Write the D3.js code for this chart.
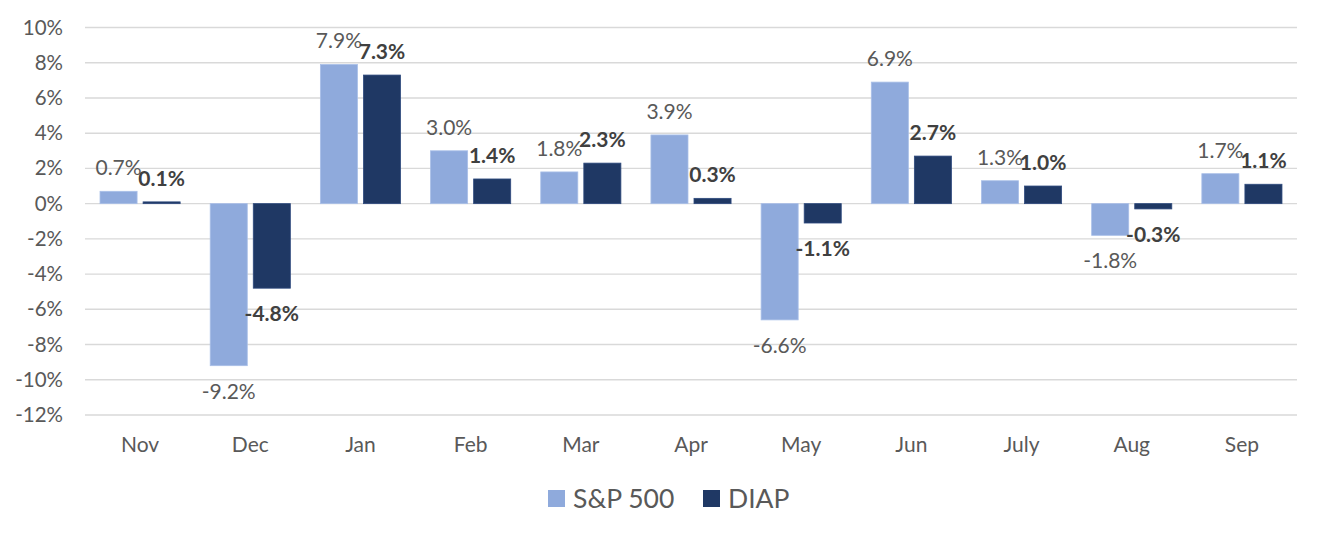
<!DOCTYPE html>
<html>
<head>
<meta charset="utf-8">
<script src="https://cdn.jsdelivr.net/npm/d3@7"></script>
<style>
  html, body { margin: 0; padding: 0; background: #fff; }
  svg { display: block; font-family: Lato, "Noto Sans", sans-serif; }
</style>
</head>
<body>
<svg id="chart" width="1325" height="540"></svg>
<script>
const categories = ["Nov", "Dec", "Jan", "Feb", "Mar", "Apr", "May", "Jun", "July", "Aug", "Sep"];
const seriesNames = ["S&P 500", "DIAP"];
const sp500 = [0.7, -9.2, 7.9, 3.0, 1.8, 3.9, -6.6, 6.9, 1.3, -1.8, 1.7];
const diap = [0.1, -4.8, 7.3, 1.4, 2.3, 0.3, -1.1, 2.7, 1.0, -0.3, 1.1];
const yTicks = [-12, -10, -8, -6, -4, -2, 0, 2, 4, 6, 8, 10];
const colors = ["#8faadc", "#1f3864"];

(function () {
const svg = d3.select("#chart");
const mLeft = 85, mRight = 1297, mTop = 27.5, mBottom = 415;

const x = d3.scaleBand().domain(categories).range([mLeft, mRight]).paddingInner(0).paddingOuter(0);
const x1 = d3.scaleBand().domain(seriesNames).range([0, x.bandwidth()]).paddingInner(6 / 43).paddingOuter(15 / 43);
const y = d3.scaleLinear().domain([-12, 10]).range([mBottom, mTop]);

// Gridlines
svg.append("g")
  .selectAll("line")
  .data(yTicks)
  .join("line")
  .attr("x1", mLeft).attr("x2", mRight)
  .attr("y1", d => y(d)).attr("y2", d => y(d))
  .attr("stroke", "#d9d9d9").attr("stroke-width", 1.4);

// Y axis labels
const yAxis = d3.axisLeft(y).tickValues(yTicks).tickFormat(d => d + "%").tickSize(0).tickPadding(0);
const gy = svg.append("g").attr("transform", "translate(63,0)").call(yAxis);
gy.select(".domain").remove();
gy.selectAll("text")
  .attr("font-family", "Lato, 'Noto Sans', sans-serif")
  .attr("font-size", 20.5).attr("fill", "#595959");

// X axis labels
const xAxis = d3.axisBottom(x).tickSize(0).tickPadding(0);
const gx = svg.append("g").attr("transform", "translate(0,437)").call(xAxis);
gx.select(".domain").remove();
gx.selectAll("text")
  .attr("font-family", "Lato, 'Noto Sans', sans-serif")
  .attr("font-size", 21).attr("fill", "#595959");

const series = [sp500, diap];
series.forEach((vals, si) => {
  const name = seriesNames[si];
  const g = svg.append("g");
  g.selectAll("rect")
    .data(vals)
    .join("rect")
    .attr("x", (d, i) => x(categories[i]) + x1(name))
    .attr("width", x1.bandwidth())
    .attr("y", d => y(Math.max(0, d)))
    .attr("height", d => Math.abs(y(d) - y(0)))
    .attr("fill", colors[si])
    .attr("stroke", si === 0 ? "#a9bfe8" : "#2e4a7e")
    .attr("stroke-width", 0.8);
  g.selectAll("text")
    .data(vals)
    .join("text")
    .attr("x", (d, i) => x(categories[i]) + x1(name) + x1.bandwidth() / 2)
    .attr("y", d => d >= 0 ? y(d) - 16 : y(d) + 33)
    .attr("text-anchor", "middle")
    .attr("font-size", 21)
    .attr("font-weight", si === 1 ? "bold" : "normal")
    .attr("fill", si === 1 ? "#404040" : "#595959")
    .text(d => d.toFixed(1) + "%");
});

// Legend
const legendX = [548, 703];
const leg = svg.append("g");
seriesNames.forEach((n, i) => {
  leg.append("rect").attr("x", legendX[i]).attr("y", 490).attr("width", 17).attr("height", 17).attr("fill", colors[i]);
  leg.append("text").attr("x", legendX[i] + 25).attr("y", 507.5)
    .attr("font-size", 26.5).attr("fill", "#595959").text(n);
});
})();
</script>
</body>
</html>
